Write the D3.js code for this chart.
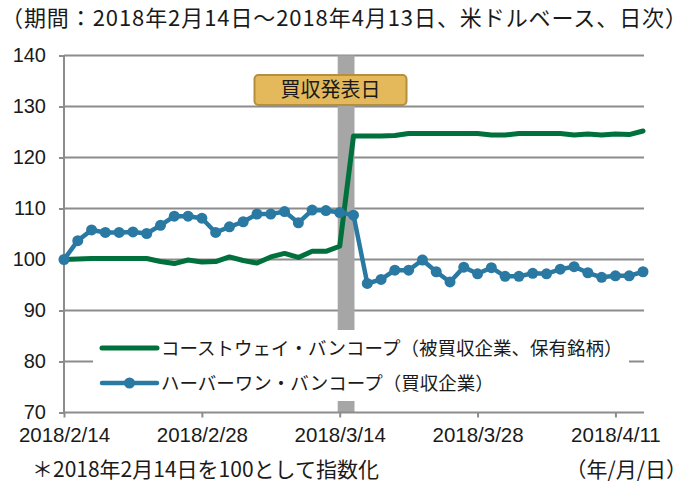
<!DOCTYPE html>
<html>
<head>
<meta charset="utf-8">
<style>
    body { margin: 0; background: #fff; }
    .grid line { stroke: #8c8c8c; stroke-width: 2; }
    .axis path, .axis line { stroke: #8c8c8c; stroke-width: 2; }
    .axis text { font-family: "Liberation Sans", Arial, sans-serif; font-size: 20px; fill: #1a1a1a; }
    .jp { font-family: "Noto Sans CJK JP", sans-serif; fill: #1a1a1a; }
    .line { fill: none; stroke-linejoin: round; stroke-linecap: round; }
</style>
</head>
<body>
<svg id="container" width="687" height="484"></svg>
<script src="https://cdn.jsdelivr.net/npm/d3@7"></script>
<script>
    // trading days (2/19 and 3/30 carried over)
    let dates = ["2018/2/14", "2018/2/15", "2018/2/16", "2018/2/19", "2018/2/20", "2018/2/21", "2018/2/22", "2018/2/23",
        "2018/2/26", "2018/2/27", "2018/2/28", "2018/3/1", "2018/3/2", "2018/3/5", "2018/3/6", "2018/3/7", "2018/3/8",
        "2018/3/9", "2018/3/12", "2018/3/13", "2018/3/14", "2018/3/15", "2018/3/16", "2018/3/19", "2018/3/20",
        "2018/3/21", "2018/3/22", "2018/3/23", "2018/3/26", "2018/3/27", "2018/3/28", "2018/3/29", "2018/3/30",
        "2018/4/2", "2018/4/3", "2018/4/4", "2018/4/5", "2018/4/6", "2018/4/9", "2018/4/10", "2018/4/11",
        "2018/4/12", "2018/4/13"]

    let coastway = [100, 100.1, 100.2, 100.2, 100.2, 100.2, 100.2, 99.6, 99.2, 99.9, 99.5,
        99.6, 100.5, 99.8, 99.3, 100.5, 101.2, 100.4, 101.6, 101.6, 102.6,
        124.2, 124.2, 124.2, 124.3, 124.7, 124.7, 124.7, 124.7, 124.7, 124.7,
        124.4, 124.4, 124.7, 124.7, 124.7, 124.7, 124.4, 124.6, 124.4, 124.6, 124.5, 125.2]

    let harborone = [100, 103.7, 105.8, 105.3, 105.3, 105.4, 105.1, 106.7, 108.5, 108.5, 108.1,
        105.3, 106.4, 107.4, 108.9, 108.9, 109.4, 107.2, 109.7, 109.6, 109.2,
        108.7, 95.3, 96.1, 97.9, 97.9, 99.9, 97.6, 95.6, 98.5, 97.2,
        98.4, 96.7, 96.7, 97.3, 97.2, 98.1, 98.6, 97.4, 96.5, 96.8, 96.8, 97.6]

    let xTicks = ["2018/2/14", "2018/2/28", "2018/3/14", "2018/3/28", "2018/4/11"]
    let yTicks = [70, 80, 90, 100, 110, 120, 130, 140]
    let announceDate = "2018/3/14"

    let seriesNames = ["コーストウェイ・バンコープ（被買収企業、保有銘柄）", "ハーバーワン・バンコープ（買収企業）"]
    let seriesColors = ["#00703d", "#2a79a3"]

    let svg = d3.select("#container")
    let plotLeft = 64, plotRight = 643, plotTop = 55.5, plotBottom = 412.5

    let x = d3.scalePoint().domain(dates).range([plotLeft, plotRight])
    let y = d3.scaleLinear().domain([70, 140]).range([plotBottom, plotTop])

    // title
    svg.append("text").attr("class", "jp")
        .attr("x", 1).attr("y", 26)
        .attr("textLength", 686)
        .attr("lengthAdjust", "spacing")
        .style("font-size", "22px")
        .text("（期間：2018年2月14日～2018年4月13日、米ドルベース、日次）")

    // gridlines
    svg.append("g").attr("class", "grid")
        .selectAll("line")
        .data(yTicks.slice(1))
        .enter().append("line")
        .attr("x1", plotLeft).attr("x2", plotRight + 1)
        .attr("y1", d => y(d)).attr("y2", d => y(d))

    // announcement band
    let step = x.step()
    svg.append("rect")
        .attr("x", x(announceDate) - 2)
        .attr("y", plotTop)
        .attr("width", step + 3)
        .attr("height", plotBottom - plotTop)
        .style("fill", "#a6a6a6")

    // axes
    let yAxis = d3.axisLeft(y).tickValues(yTicks).tickSize(5).tickPadding(13)
    svg.append("g").attr("class", "axis")
        .attr("transform", "translate(" + plotLeft + ",0)")
        .call(yAxis)
        .call(g => g.select(".domain").attr("d", "M0," + plotTop + "V" + plotBottom))

    let xAxis = d3.axisBottom(x).tickValues(xTicks).tickSize(5).tickPadding(10)
    svg.append("g").attr("class", "axis")
        .attr("transform", "translate(0," + plotBottom + ")")
        .call(xAxis)
        .call(g => g.select(".domain").attr("d", "M" + plotLeft + ",0H" + (plotRight + 1)))
        .selectAll("text").style("font-size", "20.5px")

    // legend background
    svg.append("rect")
        .attr("x", 93).attr("y", 330)
        .attr("width", 536).attr("height", 71)
        .style("fill", "#fff")

    // lines
    let line = d3.line()
        .x((d, i) => x(dates[i]))
        .y(d => y(d))

    svg.append("path")
        .datum(coastway)
        .attr("class", "line")
        .attr("d", line)
        .style("stroke", seriesColors[0])
        .style("stroke-width", 5)

    svg.append("path")
        .datum(harborone)
        .attr("class", "line")
        .attr("d", line)
        .style("stroke", seriesColors[1])
        .style("stroke-width", 4.5)

    svg.append("g")
        .selectAll("circle")
        .data(harborone)
        .enter().append("circle")
        .attr("cx", (d, i) => x(dates[i]))
        .attr("cy", d => y(d))
        .attr("r", 5.5)
        .style("fill", seriesColors[1])

    // legend
    let legend = svg.append("g")
    let legendY = [348, 383]
    seriesNames.forEach((name, i) => {
        legend.append("line")
            .attr("x1", 102).attr("x2", 157)
            .attr("y1", legendY[i]).attr("y2", legendY[i])
            .style("stroke", seriesColors[i])
            .style("stroke-width", i == 0 ? 5 : 4.5)
            .style("stroke-linecap", "round")
        if (i == 1) {
            legend.append("circle")
                .attr("cx", 129.5).attr("cy", legendY[i]).attr("r", 5.5)
                .style("fill", seriesColors[i])
        }
        legend.append("text").attr("class", "jp")
            .attr("x", 161).attr("y", legendY[i])
            .attr("dy", "0.36em")
            .style("font-size", "18.5px")
            .text(name)
    })

    // annotation box
    let cx = 330.5
    svg.append("rect")
        .attr("x", cx - 76).attr("y", 75)
        .attr("width", 152).attr("height", 30)
        .attr("rx", 4)
        .style("fill", "#e3b95b")
        .style("stroke", "#b48f3e")
        .style("stroke-width", 2)
    svg.append("text").attr("class", "jp")
        .attr("x", cx).attr("y", 90)
        .attr("dy", "0.36em")
        .attr("text-anchor", "middle")
        .style("font-size", "20px")
        .text("買収発表日")

    // notes
    svg.append("text").attr("class", "jp")
        .attr("x", 32).attr("y", 477)
        .style("font-size", "21px")
        .text("＊2018年2月14日を100として指数化")
    svg.append("text").attr("class", "jp")
        .attr("x", 687).attr("y", 477)
        .attr("text-anchor", "end")
        .style("font-size", "21px")
        .text("（年/月/日）")
</script>
</body>
</html>
